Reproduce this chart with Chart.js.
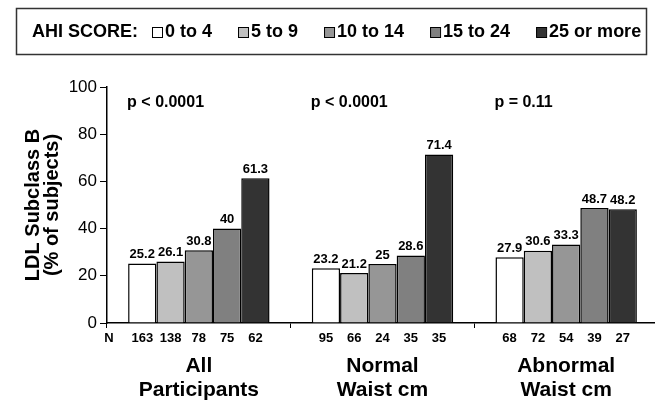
<!DOCTYPE html>
<html>
<head>
<meta charset="utf-8">
<script src="https://cdn.jsdelivr.net/npm/chart.js@4.4.0/dist/chart.umd.min.js"></script>
<style>
    html, body { margin: 0; padding: 0; background: #fff; overflow: hidden; }
    #wrap { width: 655px; height: 403px; overflow: hidden; }
</style>
</head>
<body>
<div id="wrap"><canvas id="grafico" width="658" height="403"></canvas></div>
<script>
// Dados
var groups = [['All', 'Participants'], ['Normal', 'Waist cm'], ['Abnormal', 'Waist cm']];
var ahiLabels = ['0 to 4', '5 to 9', '10 to 14', '15 to 24', '25 or more'];
var pctAhi0to4 = [25.2, 23.2, 27.9];
var pctAhi5to9 = [26.1, 21.2, 30.6];
var pctAhi10to14 = [30.8, 25, 33.3];
var pctAhi15to24 = [40, 28.6, 48.7];
var pctAhi25plus = [61.3, 71.4, 48.2];
var nAhi0to4 = [163, 95, 68];
var nAhi5to9 = [138, 66, 72];
var nAhi10to14 = [78, 24, 54];
var nAhi15to24 = [75, 35, 39];
var nAhi25plus = [62, 35, 27];
var pValues = ['p < 0.0001', 'p < 0.0001', 'p = 0.11'];
var barColors = ['#ffffff', '#c0c0c0', '#969696', '#808080', '#333333'];

var FONT = "'Liberation Sans', Arial, sans-serif";
var series = [pctAhi0to4, pctAhi5to9, pctAhi10to14, pctAhi15to24, pctAhi25plus];
var counts = [nAhi0to4, nAhi5to9, nAhi10to14, nAhi15to24, nAhi25plus];

// Rótulos, N e valores de p
var annotate = {
    id: 'annotate',
    afterDatasetsDraw: function (chart) {
        var ctx = chart.ctx;
        var area = chart.chartArea;
        ctx.save();
        ctx.fillStyle = '#000';
        ctx.textAlign = 'center';
        ctx.textBaseline = 'middle';
        chart.data.datasets.forEach(function (ds, i) {
            chart.getDatasetMeta(i).data.forEach(function (bar, j) {
                ctx.font = 'bold 13px ' + FONT;
                ctx.fillText(String(ds.data[j]), bar.x, bar.y - 9);
                ctx.fillText(String(counts[i][j]), bar.x, area.bottom + 15);
            });
        });
        ctx.fillText('N', area.left + 2, area.bottom + 15);

        ctx.font = 'bold 16px ' + FONT;
        ctx.textAlign = 'left';
        chart.getDatasetMeta(0).data.forEach(function (bar, j) {
            ctx.fillText(pValues[j], bar.x - bar.width / 2 - 1, area.top + 16);
        });
        ctx.restore();
    },
    afterDraw: function (chart) {
        var ctx = chart.ctx;
        ctx.save();
        ctx.strokeStyle = '#333';
        ctx.lineWidth = 1.5;
        ctx.strokeRect(16.5, 8.5, 630, 46);
        ctx.font = 'bold 18px ' + FONT;
        ctx.fillStyle = '#000';
        ctx.textBaseline = 'middle';
        var x = 32, y = 32;
        ctx.fillText('AHI SCORE:', x, y);
        x += ctx.measureText('AHI SCORE:').width + 14;
        ahiLabels.forEach(function (lab, i) {
            ctx.fillStyle = barColors[i];
            ctx.fillRect(x, y - 5, 10, 10);
            ctx.lineWidth = 1;
            ctx.strokeStyle = '#000';
            ctx.strokeRect(x + 0.5, y - 4.5, 10, 10);
            ctx.fillStyle = '#000';
            ctx.fillText(lab, x + 13, y);
            x += 13 + ctx.measureText(lab).width + 26;
        });
        ctx.restore();
    }
};

var ctx = document.getElementById('grafico').getContext('2d');
var grafico = new Chart(ctx, {
    type: 'bar',
    data: {
        labels: groups,
        datasets: series.map(function (vals, i) {
            return {
                label: ahiLabels[i],
                data: vals,
                backgroundColor: barColors[i],
                borderColor: '#000',
                borderWidth: 1.5,
                categoryPercentage: 0.77,
                barPercentage: 1.0
            };
        })
    },
    options: {
        responsive: false,
        animation: false,
        layout: { padding: { top: 87, left: 0, right: 0, bottom: 0 } },
        plugins: {
            legend: { display: false },
            tooltip: { enabled: false }
        },
        scales: {
            x: {
                afterFit: function (s) { s.height = 80; },
                grid: { drawOnChartArea: false, offset: true, color: '#000', tickLength: 5, lineWidth: 1 },
                border: { color: '#000', width: 1.5 },
                ticks: {
                    color: '#000',
                    padding: 26,
                    font: { family: FONT, size: 21, weight: 'bold', lineHeight: 1.15 }
                }
            },
            y: {
                min: 0,
                max: 100,
                afterFit: function (s) { s.width = 107; },
                grid: { drawOnChartArea: false, color: '#000', tickLength: 7 },
                border: { color: '#000', width: 1.5 },
                ticks: {
                    stepSize: 20,
                    color: '#000',
                    padding: 3,
                    font: { family: FONT, size: 17 }
                },
                title: {
                    display: true,
                    text: ['LDL Subclass B', '(% of subjects)'],
                    color: '#000',
                    padding: { top: 24, bottom: 0 },
                    font: { family: FONT, size: 20, weight: 'bold', lineHeight: 0.95 }
                }
            }
        }
    },
    plugins: [annotate]
});
</script>
</body>
</html>
